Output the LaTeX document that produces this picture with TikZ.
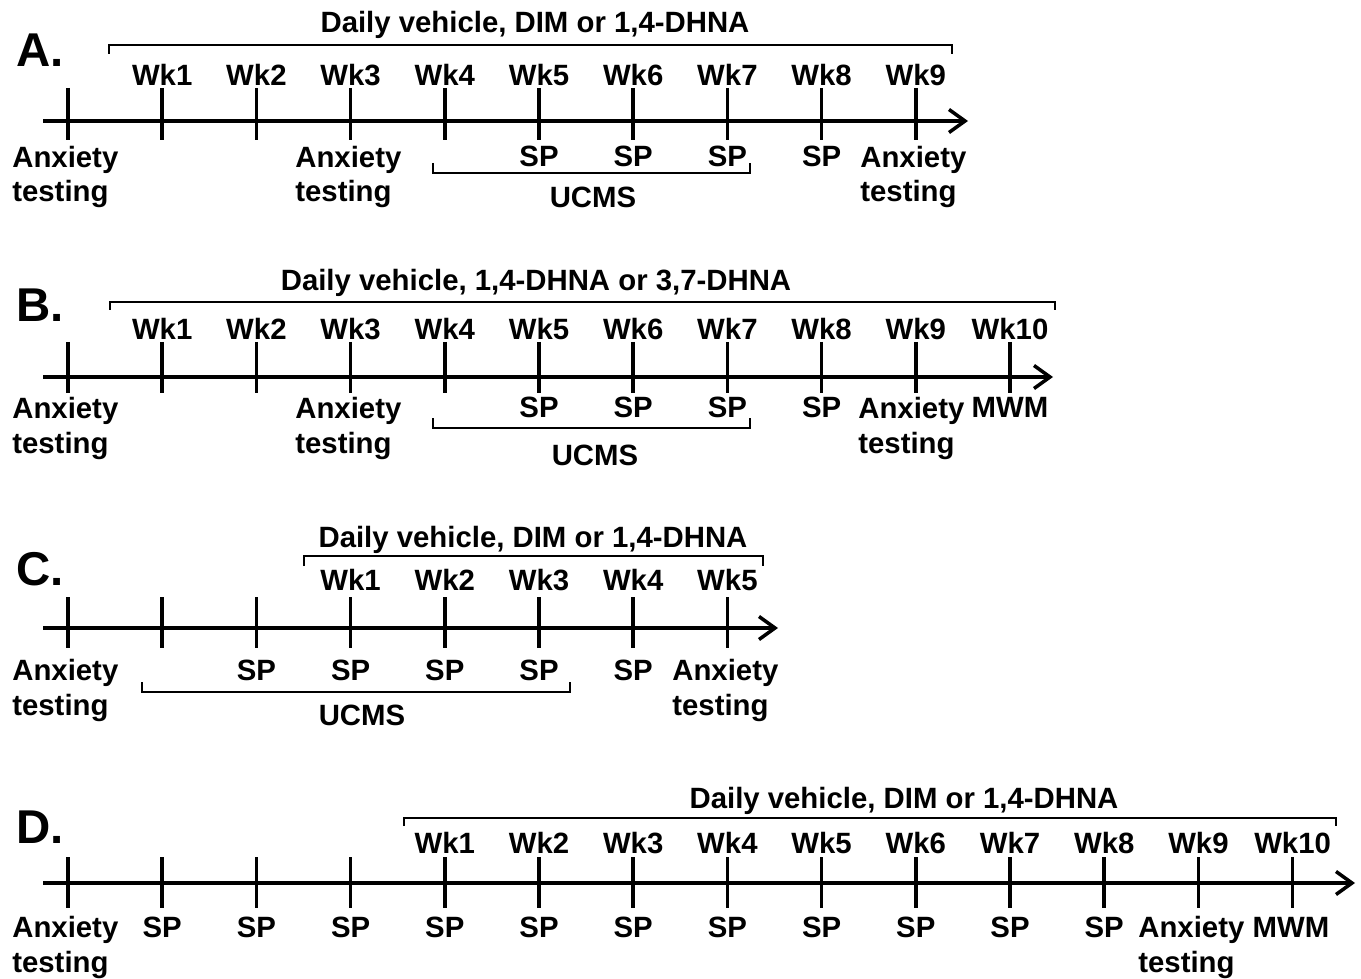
\documentclass[tikz,border=0pt]{standalone}
\usepackage{fontspec}
\setmainfont{Liberation Sans}
\usetikzlibrary{arrows.meta}
\tikzset{
  timeline/.style={line width=2pt, -{Straight Barb[length=3.2mm, width=4.6mm, line width=2pt]}},
  wktick/.style={line width=2pt},
  span/.style={line width=1.6pt},
  wk/.style={font=\bfseries\fontsize{16.7}{19.8}\selectfont, inner sep=0pt, anchor=base},
  evt/.style={wk, align=left, anchor=base west},
  panel/.style={font=\bfseries\fontsize{27}{30}\selectfont, inner sep=0pt, anchor=base west},
}
\begin{document}
\begin{tikzpicture}[x=0.02cm, y=-0.02cm]
  \useasboundingbox (0,0) rectangle (1361,979);

  % A: 9 weeks
  \node[panel] (pA) at (16,67) {A.};
  \coordinate (A0) at (43,121);
  \coordinate (A1) at (968,121);
  \draw[timeline] (A0) -- (A1);
  \foreach \i in {0,...,9} \draw[wktick] (68+94.2*\i,88) -- (68+94.2*\i,140);
  \foreach \i in {1,...,9} \node[wk] (wkA\i) at (68+94.2*\i,86) {Wk\i};
  \draw[span] (109,54) |- (952,45) -- (952,54);
  \node[wk] (trtA) at (535,33) {Daily vehicle, DIM or 1,4-DHNA};
  \node[evt] (anxA0) at (12,202) {Anxiety\\testing};
  \node[evt] (anxA3) at (295,202) {Anxiety\\testing};
  \node[evt] (anxA9) at (860,202) {Anxiety\\testing};
  \foreach \i in {5,...,8} \node[wk] (spA\i) at (68+94.2*\i,167) {SP};
  \draw[span] (433,163) |- (750,173) -- (750,163);
  \node[wk] (stA) at (593,208) {UCMS};

  % B: 10 weeks
  \node[panel] (pB) at (16,322) {B.};
  \coordinate (B0) at (43,377);
  \coordinate (B1) at (1053,377);
  \draw[timeline] (B0) -- (B1);
  \foreach \i in {0,...,10} \draw[wktick] (68+94.2*\i,342) -- (68+94.2*\i,393);
  \foreach \i in {1,...,10} \node[wk] (wkB\i) at (68+94.2*\i,340) {Wk\i};
  \draw[span] (110,310) |- (1055,302) -- (1055,310);
  \node[wk] (trtB) at (536,291) {Daily vehicle, 1,4-DHNA or 3,7-DHNA};
  \node[evt] (anxB0) at (12,453) {Anxiety\\testing};
  \node[evt] (anxB3) at (295,453) {Anxiety\\testing};
  \node[evt] (anxB9) at (858,453) {Anxiety\\testing};
  \node[wk] (mwmB) at (1010,418) {MWM};
  \foreach \i in {5,...,8} \node[wk] (spB\i) at (68+94.2*\i,418) {SP};
  \draw[span] (433,418) |- (750,428) -- (750,418);
  \node[wk] (stB) at (595,465) {UCMS};

  % C: stress first, treatment from week 3
  \node[panel] (pC) at (16,585) {C.};
  \coordinate (C0) at (43,628);
  \coordinate (C1) at (778,628);
  \draw[timeline] (C0) -- (C1);
  \foreach \i in {0,...,7} \draw[wktick] (68+94.2*\i,597) -- (68+94.2*\i,648);
  \foreach \i [evaluate=\i as \n using int(\i-2)] in {3,...,7}
    \node[wk] (wkC\n) at (68+94.2*\i,590) {Wk\n};
  \draw[span] (304,566) |- (763,556) -- (763,566);
  \node[wk] (trtC) at (533,547) {Daily vehicle, DIM or 1,4-DHNA};
  \node[evt] (anxC0) at (12,715) {Anxiety\\testing};
  \node[evt] (anxC7) at (672,715) {Anxiety\\testing};
  \foreach \i in {2,...,6} \node[wk] (spC\i) at (68+94.2*\i,680) {SP};
  \draw[span] (142,682) |- (570,692) -- (570,682);
  \node[wk] (stC) at (362,725) {UCMS};

  % D: SP every week
  \node[panel] (pD) at (16,843) {D.};
  \coordinate (D0) at (43,883);
  \coordinate (D1) at (1355,883);
  \draw[timeline] (D0) -- (D1);
  \foreach \i in {0,...,13} \draw[wktick] (68+94.2*\i,857) -- (68+94.2*\i,908);
  \foreach \i [evaluate=\i as \n using int(\i-3)] in {4,...,13}
    \node[wk] (wkD\n) at (68+94.2*\i,853) {Wk\n};
  \draw[span] (404,826) |- (1336,818) -- (1336,826);
  \node[wk] (trtD) at (904,808) {Daily vehicle, DIM or 1,4-DHNA};
  \node[evt] (anxD0) at (12,972) {Anxiety\\testing};
  \node[evt] (anxD12) at (1138,972) {Anxiety\\testing};
  \node[wk] (mwmD) at (1291,937) {MWM};
  \foreach \i in {1,...,11} \node[wk] (spD\i) at (68+94.2*\i,937) {SP};
\end{tikzpicture}
\end{document}
